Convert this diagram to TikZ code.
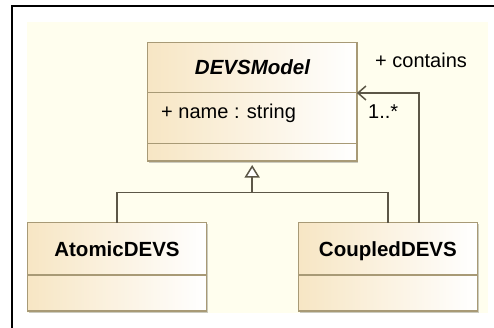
\documentclass[tikz,border=0pt]{standalone}
\usepackage{fontspec}
\setmainfont{Liberation Sans}
\usepackage{xcolor}
\usepackage{tikz}
\usetikzlibrary{arrows.meta, shadows}
\usetikzlibrary{positioning}
\definecolor{clsborder}{HTML}{A89A76}
\definecolor{clsfill}{HTML}{F7E6C4}
\definecolor{bgcream}{HTML}{FFFEEE}
\definecolor{linkline}{HTML}{5C5747}

\begin{document}
\begin{tikzpicture}[x=1pt, y=-1pt,
    cls/.style={draw=clsborder, line width=1.4pt, left color=clsfill, right color=white,
      inner sep=0, outer sep=0,
      drop shadow={shadow xshift=1.5pt, shadow yshift=-1.5pt, fill=black, opacity=0.2}},
    ctitle/.style={font=\fontsize{20.5}{24}\selectfont\bfseries, inner sep=0, anchor=base},
    txt/.style={font=\fontsize{20}{24}\selectfont, inner sep=0, anchor=base west},
    compart/.style={draw=clsborder, line width=1.4pt},
    link/.style={draw=linkline, line width=1.5pt}
  ]
  \useasboundingbox (0,0) rectangle (494,327);
  \fill[bgcream] (27,22) rectangle (488,313);
  \draw[line width=2pt] (12,335) -- (12,6) -- (500,6);

  % classes
  \node[cls, minimum width=209.3pt, minimum height=118.7pt] (devs) at (252.15,101.65) {};
  \node[cls, minimum width=179pt, minimum height=88.3pt] (atomic) at (117,266.85) {};
  \node[cls, minimum width=179.2pt, minimum height=88.3pt] (coupled) at (387.9,266.85) {};

  \draw[compart] (devs.west |- 0,92.5) -- (devs.east |- 0,92.5);
  \draw[compart] (devs.west |- 0,143.3) -- (devs.east |- 0,143.3);
  \draw[compart] (atomic.west |- 0,275) -- (atomic.east |- 0,275);
  \draw[compart] (coupled.west |- 0,275) -- (coupled.east |- 0,275);

  \node[ctitle, font=\fontsize{20.5}{24}\selectfont\bfseries\itshape] (devsname) at (252.5,74.5) {DEVSModel};
  \node[txt] (devsattr) at (161,118) {+ name : string};
  \node[ctitle] (atomicname) at (117,256) {AtomicDEVS};
  \node[ctitle] (coupledname) at (387.9,256) {CoupledDEVS};

  % generalization
  \coordinate (fork) at (devs.south |- 0,192.3);
  \draw[link] (atomic.north) |- (fork) -| (coupled.north);
  \draw[link, -{Triangle[length=12.5pt, width=15pt, fill=white]}, shorten >=4pt] (fork) -- (devs.south);

  % association
  \draw[link, -{Straight Barb[length=8pt, width=14pt]}] ([xshift=31pt]coupled.north) |- (devs.east |- 0,93);
  \node[txt] (role) at (375,67) {+ contains};
  \node[txt] (mult) at (368,118) {1..*};
\end{tikzpicture}
\end{document}
